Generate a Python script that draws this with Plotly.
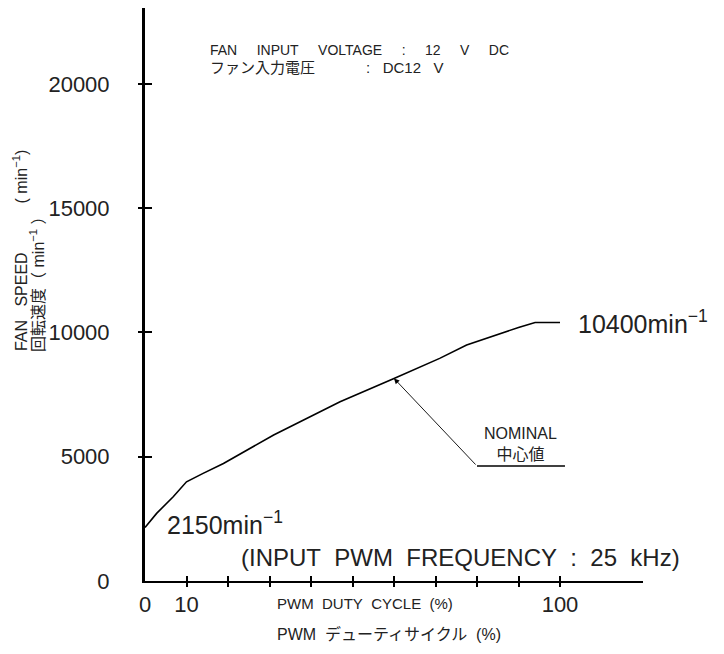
import plotly.graph_objects as go

# ---- data ----
duty = [0, 2.8, 6.8, 10, 14, 18.9, 31, 40, 47, 60, 71, 77.5, 85.5, 90, 94, 100]
speed = [2150, 2720, 3390, 3990, 4330, 4730, 5870, 6620, 7210, 8150, 8955, 9490, 9960, 10200, 10400, 10400]

x_labelvals = [0, 10, 100]
x_labeltext = ["0", "10", "100"]
x_minorvals = [20, 30, 40, 50, 60, 70, 80, 90]
x_allticks = [10, 20, 30, 40, 50, 60, 70, 80, 90, 100]
y_tickvals = [0, 5000, 10000, 15000, 20000]
y_ticktext = ["0", "5000", "10000", "15000", "20000"]

x_range = [0, 120]
y_range = [0, 23050]

min_speed = 2150
max_speed = 10400
nominal_x = 60
nominal_y = 8150

FONT = "Liberation Sans, Noto Sans CJK JP, sans-serif"
NB = "\u00a0"

def sp(s):
    return s.replace(" ", NB)

fig = go.Figure()
fig.add_trace(go.Scatter(x=duty, y=speed, mode="lines",
                         line=dict(color="black", width=1.6),
                         showlegend=False, hoverinfo="skip"))
# invisible trace so the overlay axes (outer tick halves) are drawn
fig.add_trace(go.Scatter(x=[None], y=[None], xaxis="x2", yaxis="y2",
                         showlegend=False, hoverinfo="skip"))

TXT = "#222"
fig.update_layout(
    width=724, height=654,
    margin=dict(l=137, r=89, t=0, b=81),
    paper_bgcolor="white", plot_bgcolor="white",
    font=dict(family=FONT, color="black"),
    xaxis=dict(range=x_range, tickvals=x_labelvals, ticktext=x_labeltext,
               showgrid=False, zeroline=False, showline=True,
               linecolor="black", linewidth=2, ticks="inside", ticklen=5,
               tickwidth=1.5, tickcolor="black",
               minor=dict(tickvals=x_minorvals, ticks="inside", ticklen=5,
                          tickwidth=1.5, tickcolor="black", showgrid=False),
               tickfont=dict(size=22, color=TXT), ticklabelstandoff=3),
    yaxis=dict(range=y_range, tickvals=y_tickvals, ticktext=y_ticktext,
               showgrid=False, zeroline=False, showline=True,
               linecolor="black", linewidth=3, ticks="inside", ticklen=7,
               tickwidth=2, tickcolor="black",
               tickfont=dict(size=22, color=TXT), ticklabelstandoff=28),
    xaxis2=dict(range=x_range, overlaying="x", anchor="y", tickvals=x_allticks,
                showticklabels=False, showgrid=False, zeroline=False,
                ticks="outside", ticklen=5, tickwidth=1.5, tickcolor="black"),
    yaxis2=dict(range=y_range, overlaying="y", anchor="x", tickvals=y_tickvals[1:],
                showticklabels=False, showgrid=False, zeroline=False,
                ticks="outside", ticklen=6, tickwidth=2, tickcolor="black"),
)

ann = []
# header notes
ann.append(dict(x=15.2, y=21350, xref="x", yref="y", xanchor="left", yanchor="middle",
                text=sp("FAN     INPUT     VOLTAGE     :     12     V     DC"), showarrow=False,
                font=dict(size=14, color=TXT)))
ann.append(dict(x=15.2, y=20660, xref="x", yref="y", xanchor="left", yanchor="middle",
                text="ファン入力電圧", showarrow=False, font=dict(size=15, color=TXT)))
ann.append(dict(x=52.8, y=20660, xref="x", yref="y", xanchor="left", yanchor="middle",
                text=sp(":   DC12   V"), showarrow=False, font=dict(size=15, color=TXT)))
# end labels
ann.append(dict(x=103.9, y=max_speed, xref="x", yref="y", xanchor="left", yanchor="middle",
                text=f"{max_speed}min<sup>−1</sup>", showarrow=False,
                font=dict(size=25, color=TXT)))
ann.append(dict(x=4.8, y=2330, xref="x", yref="y", xanchor="left", yanchor="middle",
                text=f"{min_speed}min<sup>−1</sup>", showarrow=False,
                font=dict(size=25, color=TXT)))
ann.append(dict(x=22.6, y=965, xref="x", yref="y", xanchor="left", yanchor="middle",
                text=sp("(INPUT  PWM  FREQUENCY  :  25  kHz)"), showarrow=False,
                font=dict(size=24, color=TXT)))
# nominal callout
ann.append(dict(x=nominal_x, y=nominal_y, xref="x", yref="y",
                ax=80, ay=4624, axref="x", ayref="y", text="",
                showarrow=True, arrowhead=2, arrowsize=1.2, arrowwidth=0.9,
                arrowcolor="black"))
ann.append(dict(x=90.6, y=4680, xref="x", yref="y", xanchor="center", yanchor="bottom",
                text="NOMINAL<br>中心値", showarrow=False, align="center",
                font=dict(size=16, color=TXT)))
# axis titles
ann.append(dict(x=31.3, y=-0.040, xref="x", yref="paper", xanchor="left", yanchor="middle",
                text=sp("PWM  DUTY  CYCLE  (%)"), showarrow=False, font=dict(size=15, color=TXT)))
ann.append(dict(x=31.3, y=-0.093, xref="x", yref="paper", xanchor="left", yanchor="middle",
                text=sp("PWM  デューティサイクル  (%)"), showarrow=False, font=dict(size=16, color=TXT)))
ann.append(dict(x=-0.251, y=0.397, xref="paper", yref="paper", xanchor="center", yanchor="bottom",
                textangle=-90,
                text=sp("FAN   SPEED") + NB * 11 + sp("( min<sup>−1</sup>)"),
                showarrow=False, font=dict(size=16, color=TXT)))
ann.append(dict(x=-0.217, y=0.397, xref="paper", yref="paper", xanchor="center", yanchor="bottom",
                textangle=-90, text="回転速度（" + NB + "min<sup>−1</sup>" + NB + "）", showarrow=False,
                font=dict(size=16, color=TXT)))
fig.update_layout(annotations=ann)

fig.add_shape(type="line", x0=80, x1=101.2, y0=4624, y1=4624, xref="x", yref="y",
              line=dict(color="black", width=1.5))

fig.write_html("out.html")
